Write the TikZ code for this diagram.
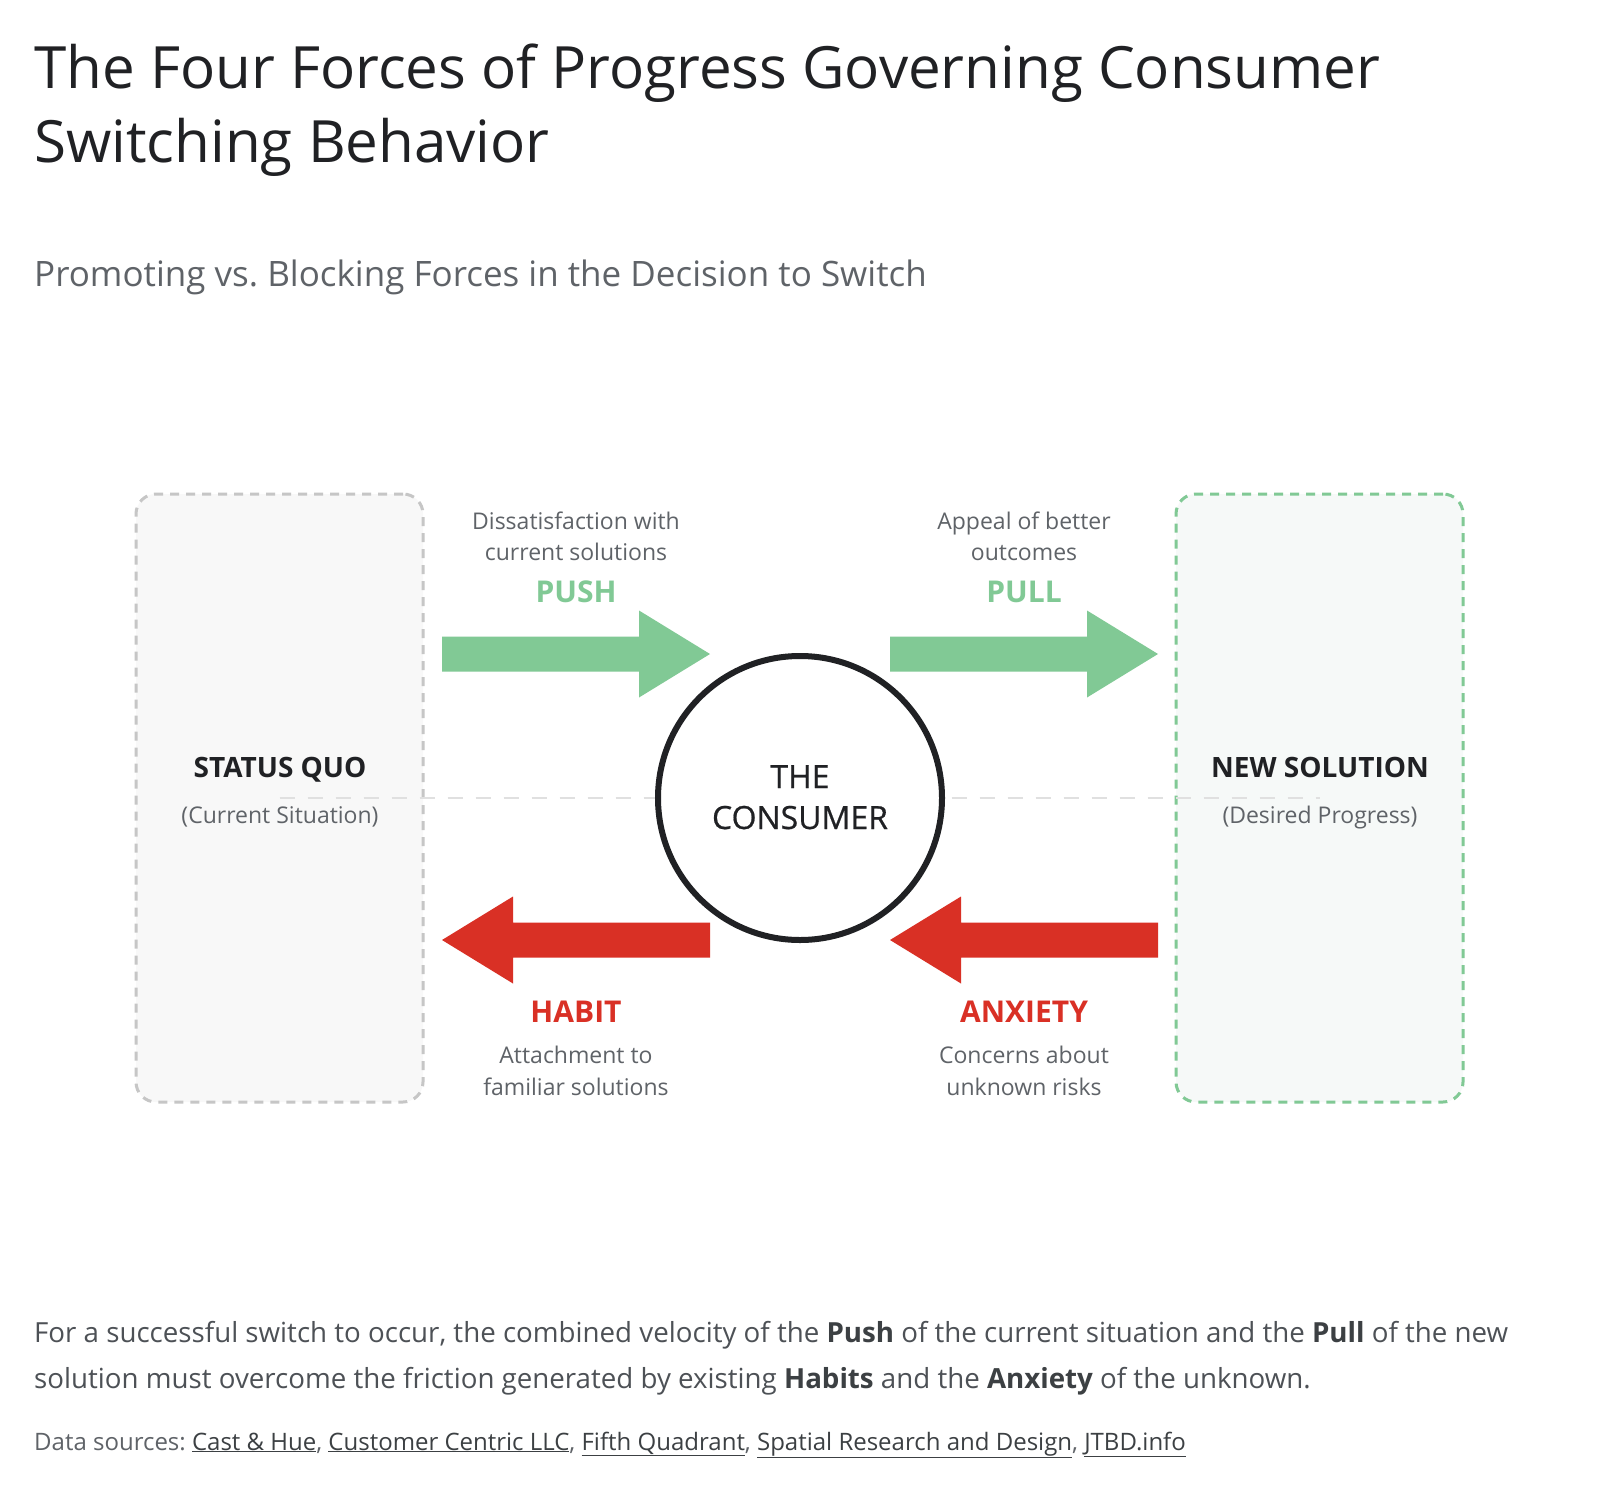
\documentclass[tikz,border=0pt]{standalone}
\usepackage{fontspec}
\setmainfont{Open Sans}
\frenchspacing
\definecolor{ink}{HTML}{202124}
\definecolor{sub}{HTML}{5F6368}
\definecolor{bodyc}{HTML}{4D5156}
\definecolor{linkc}{HTML}{3C4043}
\definecolor{pushg}{HTML}{81C995}
\definecolor{habr}{HTML}{D93025}
\definecolor{sqfill}{HTML}{F8F8F8}
\definecolor{sqline}{HTML}{C6C6C6}
\definecolor{nsfill}{HTML}{F6F9F8}
\definecolor{midline}{HTML}{E0E0E0}
\begin{document}
\begin{tikzpicture}[x=1pt,y=-1pt,
  fbox/.style={rounded corners=20pt, line width=3pt, dash pattern=on 9pt off 7pt, inner sep=0pt,
    minimum width=287pt, minimum height=608pt},
  lbl/.style={anchor=base, inner sep=0pt, text=ink, font=\bfseries\fontsize{28}{32}\selectfont},
  sublbl/.style={anchor=base, inner sep=0pt, text=sub, font=\fontsize{23}{27}\selectfont},
  desc/.style={anchor=base, inner sep=0pt, text=sub, font=\fontsize{23}{27}\selectfont},
  force/.style={anchor=base, inner sep=0pt, font=\bfseries\fontsize{30}{34}\selectfont},
  cons/.style={anchor=base, inner sep=0pt, text=ink, font=\addfontfeature{FakeBold=0.6}\fontsize{32}{36}\selectfont},
  farrow/.pic={\fill[pic actions] (0,-17.5) -- (197,-17.5) -- (197,-43.5) -- (268,0) -- (197,43.5) -- (197,17.5) -- (0,17.5) -- cycle;}
]
\useasboundingbox[fill=white] (0,0) rectangle (1600,1490);

% title
\node[anchor=base west, inner sep=0pt, text=ink, font=\fontsize{58.3}{66}\selectfont] (t1) at (34,89) {The Four Forces of Progress Governing Consumer};
\node[anchor=base west, inner sep=0pt, text=ink, font=\fontsize{58.3}{66}\selectfont] (t2) at (34,163) {Switching Behavior};
\node[anchor=base west, inner sep=0pt, text=sub, font=\fontsize{35}{40}\selectfont] (st) at (34,286) {Promoting vs. Blocking Forces in the Decision to Switch};

% boxes
\node[fbox, draw=sqline, fill=sqfill] (sq) at (279.5,798) {};
\node[fbox, draw=pushg, fill=nsfill] (ns) at (1319.5,798) {};
\draw[midline, line width=2.5pt, dash pattern=on 15pt off 13pt] (sq.center) -- (ns.center);

\node[lbl] (sqt) at (280,777) {STATUS QUO};
\node[sublbl] (sqs) at (280,823) {(Current Situation)};
\node[lbl] (nst) at (1320,777) {NEW SOLUTION};
\node[sublbl] (nss) at (1320,823) {(Desired Progress)};

% consumer
\node[circle, draw=ink, fill=white, line width=6pt, minimum size=284pt, inner sep=0pt] (c) at (800,798) {};
\node[cons] (c1) at (800,788) {THE};
\node[cons] (c2) at (800,829) {CONSUMER};

% arrows
\pic[fill=pushg] at (442,654) {farrow};
\pic[fill=pushg] at (890,654) {farrow};
\pic[fill=habr, xscale=-1] at (710,940) {farrow};
\pic[fill=habr, xscale=-1] at (1158,940) {farrow};

% force labels
\node[desc] (pd1) at (576,529) {Dissatisfaction with};
\node[desc] (pd2) at (576,560) {current solutions};
\node[force, text=pushg] (push) at (576,602) {PUSH};
\node[desc] (ld1) at (1024,529) {Appeal of better};
\node[desc] (ld2) at (1024,560) {outcomes};
\node[force, text=pushg] (pull) at (1024,602) {PULL};
\node[force, text=habr] (habit) at (576,1022) {HABIT};
\node[desc] (hd1) at (576,1063) {Attachment to};
\node[desc] (hd2) at (576,1095) {familiar solutions};
\node[force, text=habr] (anx) at (1024,1022) {ANXIETY};
\node[desc] (ad1) at (1024,1063) {Concerns about};
\node[desc] (ad2) at (1024,1095) {unknown risks};

% footer
\node[anchor=base west, inner sep=0pt, text=bodyc, font=\fontsize{27.7}{32}\selectfont] (p1) at (34,1342)
  {For a successful switch to occur, the combined velocity of the \textcolor{linkc}{\bfseries Push} of the current situation and the \textcolor{linkc}{\bfseries Pull} of the new};
\node[anchor=base west, inner sep=0pt, text=bodyc, font=\fontsize{27.7}{32}\selectfont] (p2) at (34,1388)
  {solution must overcome the friction generated by existing \textcolor{linkc}{\bfseries Habits} and the \textcolor{linkc}{\bfseries Anxiety} of the unknown.};
\node[anchor=base west, inner sep=0pt, text=sub, font=\fontsize{24}{28}\selectfont] (src) at (34,1450)
  {Data sources: \textcolor{linkc}{\underline{Cast \& Hue}}, \textcolor{linkc}{\underline{Customer Centric LLC}}, \textcolor{linkc}{\underline{Fifth Quadrant}}, \textcolor{linkc}{\underline{Spatial Research and Design}}, \textcolor{linkc}{\underline{JTBD.info}}};
\end{tikzpicture}
\end{document}
